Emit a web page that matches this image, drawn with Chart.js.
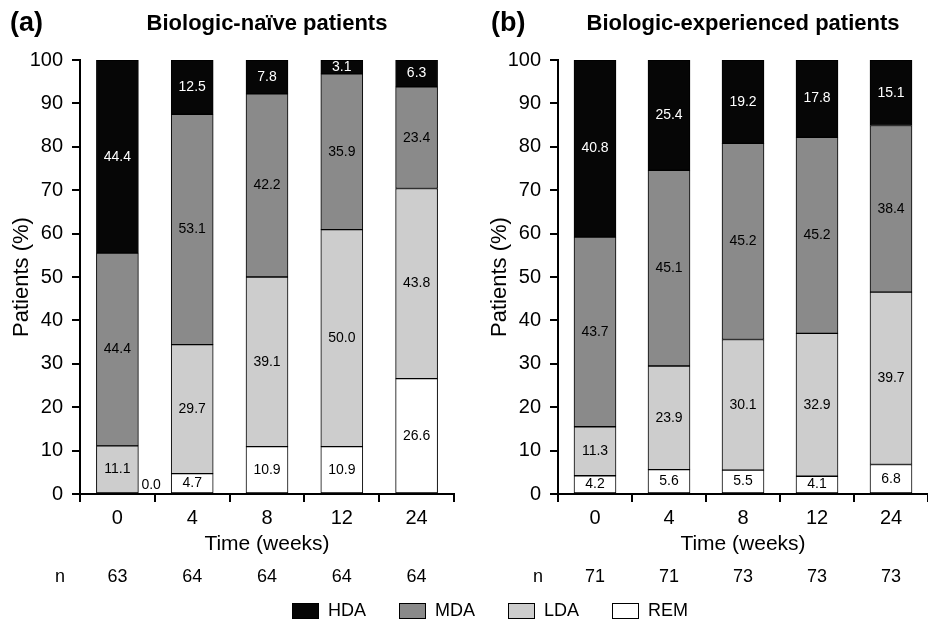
<!DOCTYPE html>
<html>
<head>
<meta charset="utf-8">
<script src="https://cdn.jsdelivr.net/npm/chart.js@4.4.1/dist/chart.umd.min.js"></script>
<style>
  body { margin: 0; background: #fff; font-family: "Liberation Sans", Arial, sans-serif; }
  #wrap { position: relative; width: 928px; height: 621px; overflow: hidden; }
  canvas { position: absolute; top: 0; }
  #legend { position: absolute; left: 292px; top: 600px; display: flex; align-items: center; font-size: 18px; color: #000; }
  .item { display: flex; align-items: center; margin-right: 33px; }
  .box { width: 25px; height: 14px; border: 1px solid #000; margin-right: 9px; }
</style>
</head>
<body>
<div id="wrap">
  <canvas id="chartA" width="464" height="621" style="left:0"></canvas>
  <canvas id="chartB" width="464" height="621" style="left:464px"></canvas>
  <div id="legend"></div>
</div>
<script>
const weeks = ['0', '4', '8', '12', '24']

// biologic-naive patients (%)
const naiveREM = [0.0, 4.7, 10.9, 10.9, 26.6]
const naiveLDA = [11.1, 29.7, 39.1, 50.0, 43.8]
const naiveMDA = [44.4, 53.1, 42.2, 35.9, 23.4]
const naiveHDA = [44.4, 12.5, 7.8, 3.1, 6.3]
const naiveN = [63, 64, 64, 64, 64]

// biologic-experienced patients (%)
const expREM = [4.2, 5.6, 5.5, 4.1, 6.8]
const expLDA = [11.3, 23.9, 30.1, 32.9, 39.7]
const expMDA = [43.7, 45.1, 45.2, 45.2, 38.4]
const expHDA = [40.8, 25.4, 19.2, 17.8, 15.1]
const expN = [71, 71, 73, 73, 73]

const colors = { HDA: '#060606', MDA: '#8a8a8a', LDA: '#cdcdcd', REM: '#ffffff' }
const FONT = '"Liberation Sans", Arial, sans-serif'

const segmentLabels = {
  id: 'segmentLabels',
  afterDatasetsDraw(chart) {
    const ctx = chart.ctx
    ctx.save()
    ctx.font = '14px ' + FONT
    ctx.textBaseline = 'middle'
    chart.data.datasets.forEach((ds, i) => {
      chart.getDatasetMeta(i).data.forEach((bar, j) => {
        const v = ds.data[j]
        const p = bar.getProps(['x', 'y', 'base', 'width'], true)
        ctx.fillStyle = ds.label === 'HDA' ? '#fff' : '#000'
        if (v === 0) {
          ctx.textAlign = 'left'
          ctx.fillText(v.toFixed(1), p.x + p.width / 2 + 3, p.base - 9)
        } else {
          ctx.textAlign = 'center'
          ctx.fillText(v.toFixed(1), p.x, (p.y + p.base) / 2)
        }
      })
    })
    ctx.restore()
  }
}

const panel = {
  id: 'panel',
  afterDraw(chart, args, opts) {
    const ctx = chart.ctx
    const area = chart.chartArea
    const x = chart.scales.x
    ctx.save()
    ctx.fillStyle = '#000'
    ctx.textBaseline = 'alphabetic'
    ctx.textAlign = 'left'
    ctx.font = 'bold 27px ' + FONT
    ctx.fillText(opts.tag, opts.tagX, 31)
    ctx.textAlign = 'center'
    ctx.font = 'bold 22px ' + FONT
    ctx.fillText(opts.title, (area.left + area.right) / 2, 30)
    ctx.font = '18px ' + FONT
    ctx.textBaseline = 'middle'
    ctx.fillText('n', area.left - 20, 577)
    opts.n.forEach((v, i) => ctx.fillText(String(v), x.getPixelForValue(i), 577))
    ctx.restore()
  }
}

function makeChart(id, rem, lda, mda, hda, n, tag, title, tagX, padLeft, padRight) {
  const ds = (label, data) => ({
    label, data,
    backgroundColor: colors[label],
    borderColor: '#000',
    borderWidth: 1,
    borderSkipped: false,
    barThickness: 42
  })
  return new Chart(document.getElementById(id), {
    type: 'bar',
    data: {
      labels: weeks,
      datasets: [ds('REM', rem), ds('LDA', lda), ds('MDA', mda), ds('HDA', hda)]
    },
    options: {
      responsive: false,
      animation: false,
      layout: { padding: { top: 60, bottom: 64, left: padLeft, right: padRight } },
      plugins: {
        legend: { display: false },
        tooltip: { enabled: false },
        panel: { tag, title, n, tagX }
      },
      scales: {
        x: {
          stacked: true,
          grid: { drawOnChartArea: false, tickLength: 8, color: '#000', lineWidth: 2 },
          border: { color: '#000', width: 2 },
          ticks: { color: '#000', font: { family: FONT, size: 20 }, padding: 4 },
          title: { display: true, text: 'Time (weeks)', color: '#000', font: { family: FONT, size: 21 }, padding: 0 },
          afterFit(s) { s.height = 63 }
        },
        y: {
          stacked: true,
          min: 0,
          max: 100,
          grid: { drawOnChartArea: false, tickLength: 8, color: '#000', lineWidth: 2 },
          border: { color: '#000', width: 2 },
          ticks: { stepSize: 10, color: '#000', font: { family: FONT, size: 20 }, padding: 9 },
          title: { display: true, text: 'Patients (%)', color: '#000', font: { family: FONT, size: 22 }, padding: { top: 9, bottom: 0 } },
          afterFit(s) { s.width = 80 }
        }
      }
    },
    plugins: [segmentLabels, panel]
  })
}

makeChart('chartA', naiveREM, naiveLDA, naiveMDA, naiveHDA, naiveN, '(a)', 'Biologic-naïve patients', 10, 0, 10)
makeChart('chartB', expREM, expLDA, expMDA, expHDA, expN, '(b)', 'Biologic-experienced patients', 27, 14, 0)

const legend = document.getElementById('legend')
;['HDA', 'MDA', 'LDA', 'REM'].forEach(name => {
  const item = document.createElement('div')
  item.className = 'item'
  const box = document.createElement('div')
  box.className = 'box'
  box.style.background = colors[name]
  item.appendChild(box)
  item.appendChild(document.createTextNode(name))
  legend.appendChild(item)
})
</script>
</body>
</html>
